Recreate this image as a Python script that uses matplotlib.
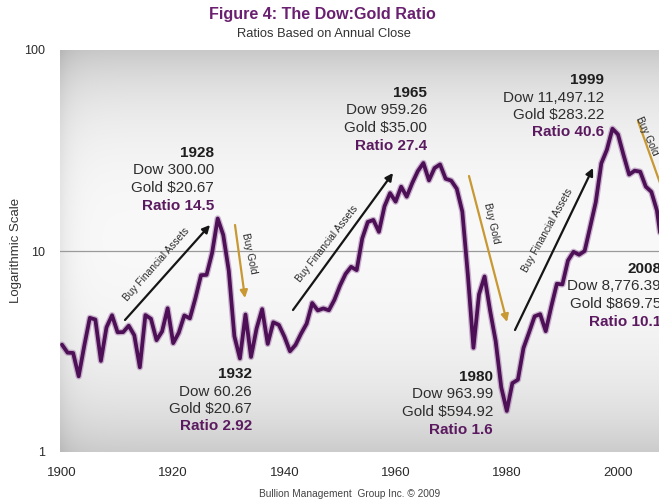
import numpy as np
import matplotlib
matplotlib.use("Agg")
import matplotlib.pyplot as plt

# ---------------- data ----------------
years = list(range(1900, 2009))
ratio = [
    3.42, 3.12, 3.11, 2.38, 3.37, 4.65, 4.56, 2.84, 4.17, 4.79,   # 1900s
    3.94, 3.95, 4.25, 3.81, 2.64, 4.80, 4.60, 3.60, 3.98, 5.19,   # 1910s
    3.48, 3.92, 4.78, 4.62, 5.83, 7.58, 7.61, 9.79, 14.51, 12.02,  # 1920s
    7.96, 3.77, 2.92, 4.83, 2.97, 4.12, 5.14, 3.45, 4.42, 4.29,   # 1930s
    3.75, 3.17, 3.41, 3.88, 4.35, 5.51, 5.06, 5.18, 5.07, 5.72,   # 1940s
    6.73, 7.69, 8.34, 8.03, 11.55, 13.95, 14.27, 12.45, 16.68, 19.41,  # 1950s
    17.60, 20.89, 18.63, 21.80, 24.98, 27.40, 22.45, 25.86, 26.96, 22.87,  # 1960s
    22.40, 20.40, 15.70, 7.58, 3.30, 6.08, 7.47, 5.04, 3.56, 2.10,  # 1970s
    1.60, 2.20, 2.29, 3.29, 3.93, 4.73, 4.85, 3.99, 5.29, 6.87,   # 1980s
    6.82, 8.97, 9.91, 9.58, 10.00, 13.20, 17.50, 27.30, 31.90, 40.60,  # 1990s
    38.00, 30.00, 24.00, 25.10, 24.80, 20.90, 19.70, 15.90, 10.10,  # 2000s
]
xticks = [1900, 1920, 1940, 1960, 1980, 2000]
xticklabels = ["1900", "1920", "1940", "1960", "1980", "2000"]
yticks = [1, 10, 100]
yticklabels = ["1", "10", "100"]

callouts = [
    # year label, dow, gold, ratio text
    ("1928", "Dow 300.00", "Gold $20.67", "Ratio 14.5"),
    ("1932", "Dow 60.26", "Gold $20.67", "Ratio 2.92"),
    ("1965", "Dow 959.26", "Gold $35.00", "Ratio 27.4"),
    ("1980", "Dow 963.99", "Gold $594.92", "Ratio 1.6"),
    ("1999", "Dow 11,497.12", "Gold $283.22", "Ratio 40.6"),
    ("2008", "Dow 8,776.39", "Gold $869.75", "Ratio 10.1"),
]

# ---------------- figure ----------------
W, H = 659, 503
fig = plt.figure(figsize=(W / 100, H / 100), dpi=100)
plt.rcParams["font.family"] = ["Liberation Sans", "DejaVu Sans"]

L, T, B = 60, 50, 452
ax = fig.add_axes([L / W, (H - B) / H, (W - L) / W, (B - T) / H])
ax.set_yscale("log")
px_per_year = 5.56
x0 = 1900 - 2 / px_per_year
x1 = 1900 + (W - 62) / px_per_year
ax.set_xlim(x0, x1)
ax.set_ylim(1, 100)


def P(x, y):
    """pixel (from top-left of image) -> data coords"""
    return 1900 + (x - 62) / px_per_year, 10 ** ((B - y) / 201.0)


# gradient background
ny, nx = 200, 300
t = np.linspace(0, 1, ny)[:, None]
s = np.linspace(0, 1, nx)[None, :]
v = 1 - 0.21 * np.exp(-t / 0.16) - 0.20 * np.exp(-(1 - t) / 0.20) - 0.07 * np.exp(-s / 0.02)
v = np.clip(v, 0, 1)
img = np.dstack([v, v, v])
ax.imshow(img, extent=[0, 1, 0, 1], transform=ax.transAxes, aspect="auto",
          zorder=0, interpolation="bilinear")

for sp in ax.spines.values():
    sp.set_visible(False)
ax.tick_params(length=0)
ax.set_xticks(xticks)
ax.set_xticklabels(xticklabels, fontsize=9.5, color="#2a2a2a")
ax.tick_params(axis="x", pad=11)
ax.set_yticks(yticks)
ax.set_yticklabels(yticklabels, fontsize=9, color="#2a2a2a")
ax.yaxis.set_minor_locator(matplotlib.ticker.NullLocator())
ax.tick_params(axis="y", pad=11)
ax.axhline(10, color="#9a9a9a", lw=0.9, zorder=1)

# the line
ax.plot(years, ratio, color="#a67aae", lw=4.6, alpha=0.55, zorder=3,
        solid_joinstyle="round", solid_capstyle="round")
ax.plot(years, ratio, color="#4d0f55", lw=2.7, zorder=4,
        solid_joinstyle="round", solid_capstyle="round")

# arrows
def arrow(p0, p1, color):
    ax.annotate("", xy=P(*p1), xytext=P(*p0),
                arrowprops=dict(arrowstyle="-|>", color=color, lw=1.6,
                                mutation_scale=11, shrinkA=0, shrinkB=0),
                zorder=5, annotation_clip=False)


black = "#151515"
gold = "#c89832"
arrow((125, 320), (210, 225), black)
arrow((293, 310), (393, 173), black)
arrow((515, 330), (593, 168), black)
arrow((235, 225), (245, 298), gold)
arrow((469, 176), (507, 322), gold)
arrow((638, 121), (676, 228), gold)


def label(x, y, text, rot):
    ax.text(*P(x, y), text, rotation=rot, rotation_mode="anchor",
            ha="center", va="center", fontsize=7.3, color="#2a2a2a", zorder=6)


label(156.7, 264, "Buy Financial Assets", 48.5)
label(327.5, 244, "Buy Financial Assets", 52)
label(547.5, 230, "Buy Financial Assets", 61)
label(249.5, 253, "Buy Gold", -78)
label(491.7, 223, "Buy Gold", -77)
label(647, 136, "Buy Gold", -66)

# callout blocks: right edge px, first line y px
block_pos = [(214, 153), (252, 374), (427, 93), (493, 377), (604, 80), (661, 269)]
for (yr, dow, gld, rt), (rx, ty) in zip(callouts, block_pos):
    lines = [(yr, "bold", "#1e1e1e"), (dow, "normal", "#2e2e2e"),
             (gld, "normal", "#2e2e2e"), (rt, "bold", "#5b1a60")]
    for i, (txt, wt, col) in enumerate(lines):
        ax.text(*P(rx, ty + i * 17.5), txt, ha="right", va="center",
                fontsize=11, fontweight=wt, color=col, zorder=7, clip_on=False)

# titles
fig.text(322 / W, 1 - 15 / H, "Figure 4: The Dow:Gold Ratio", ha="center", va="center",
         fontsize=11.6, fontweight="bold", color="#6a2070")
fig.text(324 / W, 1 - 34 / H, "Ratios Based on Annual Close", ha="center", va="center",
         fontsize=9.3, color="#333333")
fig.text(16 / W, 1 - 250 / H, "Logarithmic Scale", rotation=90, ha="center", va="center",
         fontsize=9.5, color="#333333")
fig.text(350 / W, 1 - 494 / H, "Bullion Management  Group Inc. \u00a9 2009", ha="center",
         va="center", fontsize=7.3, color="#444444")

fig.savefig("out.png", dpi=100)
